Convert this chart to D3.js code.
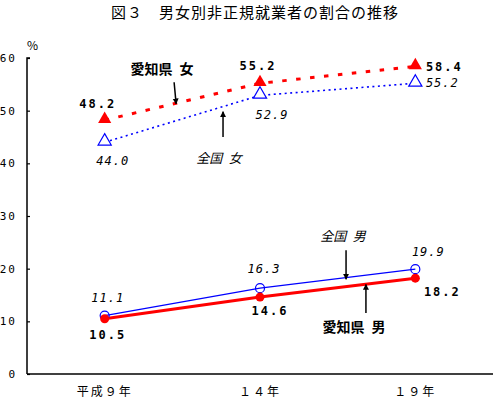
<!DOCTYPE html>
<html>
<head>
<meta charset="utf-8">
<script src="https://cdn.jsdelivr.net/npm/d3@7"></script>
<style>
  body { margin: 0; background: #fff; }
  svg { display: block; }
</style>
</head>
<body>
<div id="chart"></div>
<script>
const years = ["平成９年", "１４年", "１９年"];
const aichiFemale = [48.2, 55.2, 58.4];
const zenkokuFemale = [44.0, 52.9, 55.2];
const zenkokuMale = [11.1, 16.3, 19.9];
const aichiMale = [10.5, 14.6, 18.2];
const yTicks = [0, 10, 20, 30, 40, 50, 60];

const width = 496, height = 408;
const plotLeft = 27, plotRight = 493, plotTop = 58, plotBottom = 374;

const svg = d3.select("#chart").append("svg")
  .attr("width", width)
  .attr("height", height);

const jp = "'Noto Sans CJK JP', sans-serif";

// arrow head
svg.append("defs").append("marker")
  .attr("id", "arrow")
  .attr("viewBox", "0 0 10 10")
  .attr("refX", 9).attr("refY", 5)
  .attr("markerWidth", 4).attr("markerHeight", 5)
  .attr("markerUnits", "strokeWidth")
  .attr("orient", "auto")
  .append("path")
  .attr("d", "M0,0 L10,5 L0,10 z")
  .attr("fill", "#000");

const x = d3.scaleLinear().domain([-0.5, 2.5]).range([plotLeft, plotRight]);
const y = d3.scaleLinear().domain([0, 60]).range([plotBottom, plotTop]);

// title
svg.append("text")
  .attr("x", 255).attr("y", 18)
  .attr("text-anchor", "middle")
  .style("font-family", jp)
  .style("font-size", "15px")
  .style("letter-spacing", "1px")
  .text("図３　男女別非正規就業者の割合の推移");

svg.append("text")
  .attr("x", 27).attr("y", 50)
  .style("font-family", jp)
  .style("font-size", "12px")
  .text("%");

// axes
const yAxis = svg.append("g")
  .attr("transform", `translate(${plotLeft},0)`)
  .call(d3.axisRight(y).tickValues(yTicks).tickSize(3).tickFormat(d => d));
yAxis.select(".domain").attr("d", `M3,${plotTop}H0V${plotBottom}`).attr("stroke-width", 1.5);
yAxis.selectAll(".tick line").attr("stroke-width", 1.2);
yAxis.selectAll(".tick text")
  .attr("x", -10)
  .attr("text-anchor", "end")
  .style("font-family", "'DejaVu Sans Mono', monospace")
  .style("font-size", "11px")
  .style("letter-spacing", "2px");

svg.append("line")
  .attr("x1", plotLeft).attr("x2", plotRight)
  .attr("y1", plotBottom).attr("y2", plotBottom)
  .attr("stroke", "#000").attr("stroke-width", 1.5);

svg.append("g").selectAll("text")
  .data(years)
  .join("text")
  .attr("x", (d, i) => x(i))
  .attr("y", 396)
  .attr("text-anchor", "middle")
  .style("font-family", jp)
  .style("font-size", "12px")
  .style("letter-spacing", "2px")
  .text(d => d);

const line = d3.line().x((d, i) => x(i)).y(d => y(d));

// 全国 女
svg.append("path")
  .attr("d", line(zenkokuFemale))
  .attr("fill", "none").attr("stroke", "#0000ff")
  .attr("stroke-width", 1.6).attr("stroke-dasharray", "2,3.5");
// 愛知県 女
svg.append("path")
  .attr("d", line(aichiFemale))
  .attr("fill", "none").attr("stroke", "#ff0000")
  .attr("stroke-width", 3).attr("stroke-dasharray", "4.5,9.5");
// 全国 男
svg.append("path")
  .attr("d", line(zenkokuMale))
  .attr("fill", "none").attr("stroke", "#0000ff")
  .attr("stroke-width", 1.2);
// 愛知県 男
svg.append("path")
  .attr("d", line(aichiMale))
  .attr("fill", "none").attr("stroke", "#ff0000")
  .attr("stroke-width", 3);

const tri = d3.symbol().type(d3.symbolTriangle).size(75);

svg.append("g").selectAll("path")
  .data(zenkokuFemale)
  .join("path")
  .attr("transform", (d, i) => `translate(${x(i)},${y(d) - 1})`)
  .attr("d", tri)
  .attr("fill", "#fff").attr("stroke", "#0000ff").attr("stroke-width", 1.2);

svg.append("g").selectAll("path")
  .data(aichiFemale)
  .join("path")
  .attr("transform", (d, i) => `translate(${x(i)},${y(d) - 1})`)
  .attr("d", tri)
  .attr("fill", "#ff0000");

svg.append("g").selectAll("circle")
  .data(zenkokuMale)
  .join("circle")
  .attr("cx", (d, i) => x(i)).attr("cy", d => y(d))
  .attr("r", 4.5)
  .attr("fill", "none").attr("stroke", "#0000ff").attr("stroke-width", 1.2);

svg.append("g").selectAll("circle")
  .data(aichiMale)
  .join("circle")
  .attr("cx", (d, i) => x(i)).attr("cy", d => y(d))
  .attr("r", 4.5)
  .attr("fill", "#ff0000");

// value labels
function valueLabels(values, offsets, bold) {
  svg.append("g").selectAll("text")
    .data(values)
    .join("text")
    .attr("x", (d, i) => x(i) + offsets[i][0])
    .attr("y", (d, i) => y(d) + offsets[i][1])
    .attr("text-anchor", "middle")
    .style("font-family", "'DejaVu Sans Mono', monospace")
    .style("font-size", "12px")
    .style("font-weight", bold ? "bold" : "normal")
    .style("font-style", bold ? "normal" : "italic")
    .style("letter-spacing", bold ? "2px" : "1px")
    .text(d => d.toFixed(1));
}
valueLabels(aichiFemale, [[-7, -12], [-2, -13], [29, 5]], true);
valueLabels(zenkokuFemale, [[8, 23], [12, 24], [27, 4]], false);
valueLabels(zenkokuMale, [[3, -14], [4, -15], [13, -13]], false);
valueLabels(aichiMale, [[3, 20], [10, 18], [27, 18]], true);

// series annotations
const notes = [
  { text: "愛知県\u2002女", bold: true, tx: 0.369, ty: 56.9, ax: 0.447, ay1: 55.4, ax2: 0.46, ay2: 51.3 },
  { text: "全国\u2002女", bold: false, tx: 0.736, ty: 40.0, ax: 0.762, ay1: 45.0, ax2: 0.762, ay2: 49.8 },
  { text: "全国\u2002男", bold: false, tx: 1.534, ty: 25.2, ax: 1.554, ay1: 23.5, ax2: 1.554, ay2: 18.0 },
  { text: "愛知県\u2002男", bold: true, tx: 1.605, ty: 8.0, ax: 1.682, ay1: 11.6, ax2: 1.682, ay2: 17.0 }
];

svg.append("g").selectAll("text")
  .data(notes)
  .join("text")
  .attr("x", d => x(d.tx)).attr("y", d => y(d.ty))
  .attr("text-anchor", "middle")
  .style("font-family", jp)
  .style("font-size", d => d.bold ? "14px" : "13px")
  .style("font-weight", d => d.bold ? "bold" : "normal")
  .style("font-style", d => d.bold ? "normal" : "italic")
  .text(d => d.text);

svg.append("g").selectAll("line")
  .data(notes)
  .join("line")
  .attr("x1", d => x(d.ax)).attr("y1", d => y(d.ay1))
  .attr("x2", d => x(d.ax2)).attr("y2", d => y(d.ay2))
  .attr("stroke", "#000").attr("stroke-width", 1.5)
  .attr("marker-end", "url(#arrow)");
</script>
</body>
</html>
